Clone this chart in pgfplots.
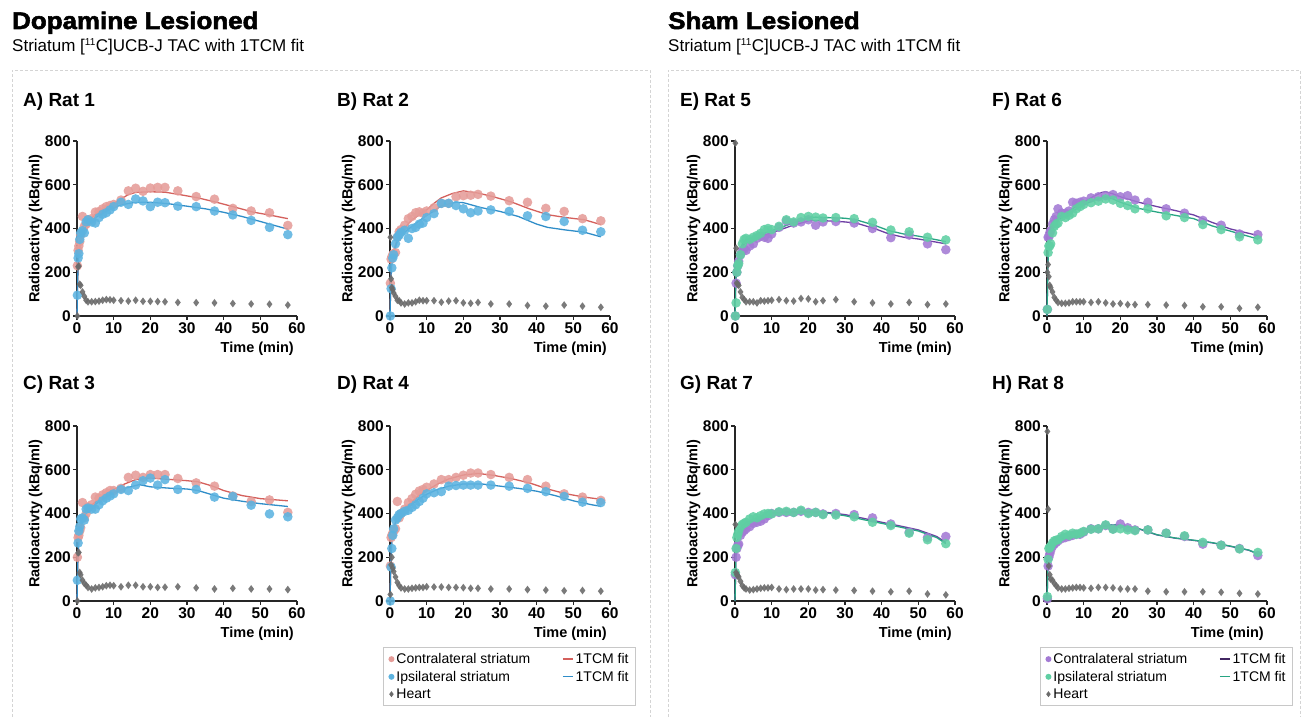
\documentclass[border=0pt]{standalone}
\usepackage{fontspec}
\setmainfont{Liberation Sans}
\newfontfamily\heavyfont{Liberation Sans}[BoldFeatures={FakeBold=2.2}]
\usepackage{pgfplots}
\usepackage{pgfplotstable}
\pgfplotsset{compat=1.18}

\definecolor{cpt}{HTML}{E59C98}
\definecolor{cfitc}{HTML}{D4605C}
\definecolor{ipt}{HTML}{5CB3E0}
\definecolor{ifitc}{HTML}{2F8DC8}
\definecolor{heart}{HTML}{6B6B6B}
\definecolor{ppt}{HTML}{A37AD4}
\definecolor{pfitc}{HTML}{6E3FA3}
\definecolor{gpt}{HTML}{5FCFA3}
\definecolor{gfitc}{HTML}{27A583}
\definecolor{boxgray}{HTML}{D4D4D4}
\definecolor{legbox}{HTML}{C8C8C8}

\pgfplotsset{
  panel/.style={
    scale only axis, width=220pt, height=175pt, anchor=south west,
    xmin=0, xmax=60, ymin=0, ymax=800,
    axis x line=bottom, axis y line=left,
    axis line style={-, line width=1.4pt, black!85},
    xtick={0,10,20,30,40,50,60}, ytick={0,200,400,600,800},
    minor tick num=0,
    tick align=outside, major tick length=4pt,
    every tick/.style={line width=1.2pt, black!85},
    tick label style={font=\fontsize{15.5}{17}\selectfont\bfseries, black},
    xticklabel style={inner sep=2pt},
    yticklabel style={inner sep=2pt},
    /pgf/number format/assume math mode=true,
    xlabel={Time (min)}, ylabel={Radioactivty (kBq/ml)},
    xlabel style={font=\fontsize{14.5}{17}\selectfont\bfseries, at={(1,0)}, anchor=north east, yshift=-26pt, xshift=-3pt, inner sep=0pt},
    ylabel style={font=\fontsize{14.5}{17}\selectfont\bfseries},
    ylabel shift=-3pt,
    clip=false,
    legend image code/.code={\draw[mark repeat=2,mark phase=2,##1] plot coordinates {(0pt,0pt)(5pt,0pt)(10pt,0pt)};},
  },
  pts/.style={only marks, mark=*, mark size=4.8pt, color=#1, mark options={fill=#1, draw=#1, fill opacity=0.88, draw opacity=0}},
  fit/.style={no marks, line width=1.3pt, color=#1},
  hrt/.style={only marks, mark=diamond*, mark size=3.9pt, color=heart, mark options={fill=heart, draw=heart, fill opacity=0.9, draw opacity=0}},
  leg/.style={
    legend columns=2, legend cell align=left,
    legend style={at={(1.1176,-0.263)}, anchor=north east, draw=legbox, line width=0.6pt,
      font=\fontsize{14}{16}\selectfont, inner xsep=5pt, inner ysep=4pt, row sep=2pt,
      /tikz/every even column/.append style={column sep=30pt}},
  },
}

% Dopamine lesioned: t, contralateral, ipsilateral, heart
\pgfplotstableread{
t c i h
0.1 230 95 0
0.3 300 265 225
0.5 320 285 228
0.75 340 350 145
1 370 380 140
1.5 455 390 110
2 410 380 90
2.5 420 430 72
3 440 440 65
4 445 430 65
5 475 425 66
6 478 450 68
7 490 465 72
8 500 472 75
9 505 485 74
10 510 500 72
12 530 520 70
14 572 510 68
16 584 535 72
18 570 526 67
20 585 500 67
22 588 520 66
24 588 518 65
27.5 572 502 62
32.5 546 500 61
37.5 534 480 60
42.5 492 462 57
47.5 480 437 55
52.5 472 405 54
57.5 414 372 50
}\tA

\pgfplotstableread{
t c i h
0.1 150 0 360
0.3 260 125 170
0.5 270 220 130
0.75 280 265 120
1 285 280 105
1.5 290 330 90
2 360 360 72
2.5 385 370 70
3 395 382 60
4 415 392 55
5 445 355 60
6 455 400 60
7 472 405 65
8 476 420 72
9 470 425 70
10 480 450 70
12 495 468 70
14 515 515 63
16 515 515 68
18 545 505 70
20 550 490 60
22 552 472 58
24 556 480 62
27.5 548 485 55
32.5 527 478 55
37.5 520 458 48
42.5 492 455 45
47.5 478 432 50
52.5 445 392 45
57.5 435 385 40
}\tB

\pgfplotstableread{
t c i h
0.1 200 95 0
0.3 290 265 220
0.5 300 320 222
0.75 320 340 130
1 335 375 120
1.5 450 380 95
2 380 370 80
2.5 400 420 72
3 430 425 62
4 440 420 55
5 475 420 60
6 470 440 62
7 485 458 65
8 495 470 70
9 505 480 72
10 505 490 70
12 515 510 65
14 565 505 72
16 575 530 72
18 565 550 65
20 578 562 65
22 578 530 62
24 578 555 63
27.5 560 510 65
32.5 540 510 60
37.5 525 475 55
42.5 480 478 58
47.5 455 438 55
52.5 462 398 55
57.5 405 385 52
}\tC

\pgfplotstableread{
t c i h
0.1 160 0 30
0.3 290 155 165
0.5 300 240 200
0.75 310 300 150
1 320 330 135
1.5 330 370 110
2 455 380 85
2.5 380 395 70
3 400 400 60
4 420 410 55
5 450 415 55
6 468 428 58
7 488 440 60
8 503 455 62
9 510 470 62
10 520 490 65
12 535 495 64
14 555 500 64
16 555 525 62
18 565 528 62
20 575 530 61
22 585 530 58
24 585 530 58
27.5 578 530 55
32.5 565 525 55
37.5 555 515 52
42.5 525 500 50
47.5 490 478 47
52.5 475 452 48
57.5 460 450 45
}\tD

% Sham lesioned
\pgfplotstableread{
t c i h
0.1 0 0 790
0.3 150 60 310
0.5 200 200 150
0.75 230 230 145
1 250 240 140
1.5 280 280 110
2 300 330 85
2.5 305 350 75
3 300 355 65
4 320 350 65
5 330 360 65
6 355 368 60
7 365 378 70
8 360 395 68
9 355 400 70
10 375 395 72
12 405 410 75
14 435 440 70
16 425 430 68
18 430 450 80
20 440 455 78
22 415 452 65
24 430 448 70
27.5 432 450 75
32.5 425 445 65
37.5 400 428 60
42.5 358 393 55
47.5 370 385 62
52.5 330 360 52
57.5 303 348 55
}\tE

\pgfplotstableread{
t c i h
0.1 30 30 200
0.3 360 290 235
0.5 360 320 180
0.75 380 320 140
1 390 330 130
1.5 420 380 110
2 440 410 85
2.5 455 420 72
3 490 425 62
4 470 455 58
5 470 450 58
6 480 460 60
7 520 470 65
8 515 490 65
9 520 500 65
10 525 510 65
12 540 518 62
14 545 525 65
16 550 535 60
18 555 530 55
20 545 515 57
22 550 505 52
24 530 490 52
27.5 520 490 52
32.5 490 458 50
37.5 470 450 48
42.5 437 418 42
47.5 415 395 42
52.5 375 362 35
57.5 372 348 40
}\tF

\pgfplotstableread{
t c i h
0.1 120 130 350
0.3 200 240 130
0.5 240 290 120
0.75 255 305 115
1 260 320 110
1.5 300 340 90
2 315 350 70
2.5 322 355 60
3 330 360 55
4 340 375 50
5 355 385 52
6 360 380 55
7 365 390 58
8 375 398 60
9 390 400 60
10 400 398 62
12 405 408 55
14 405 410 52
16 405 405 55
18 410 415 55
20 405 400 55
22 405 405 50
24 398 395 52
27.5 400 393 50
32.5 395 385 48
37.5 380 360 45
42.5 352 345 42
47.5 315 310 45
52.5 290 280 32
57.5 295 262 28
}\tG

\pgfplotstableread{
t c i h
0.1 10 20 775
0.3 160 190 420
0.5 200 240 160
0.75 215 245 120
1 230 250 100
1.5 250 265 95
2 260 275 80
2.5 268 278 70
3 275 280 60
4 285 295 55
5 290 305 55
6 295 300 58
7 300 310 60
8 305 305 62
9 305 310 62
10 315 318 60
12 330 328 58
14 330 330 62
16 345 348 62
18 330 328 60
20 352 330 55
22 335 325 55
24 325 322 55
27.5 325 325 45
32.5 310 310 42
37.5 295 298 42
42.5 260 268 42
47.5 255 255 40
52.5 240 238 35
57.5 208 222 32
}\tH

\begin{document}
\begin{tikzpicture}
\useasboundingbox (0,0) rectangle (1304pt,717pt);

% headers
\node[anchor=base west, inner sep=0pt, font=\heavyfont\bfseries\fontsize{24}{28}\selectfont] at (12pt,688pt) {\scalebox{1.08}[1]{Dopamine Lesioned}};
\node[anchor=base west, inner sep=0pt, font=\fontsize{17}{20}\selectfont] at (12pt,665pt) {Striatum [\textsuperscript{\fontsize{10}{10}\selectfont 11}C]UCB-J TAC with 1TCM fit};
\node[anchor=base west, inner sep=0pt, font=\heavyfont\bfseries\fontsize{24}{28}\selectfont] at (668pt,688pt) {\scalebox{1.08}[1]{Sham Lesioned}};
\node[anchor=base west, inner sep=0pt, font=\fontsize{17}{20}\selectfont] at (668pt,665pt) {Striatum [\textsuperscript{\fontsize{10}{10}\selectfont 11}C]UCB-J TAC with 1TCM fit};

% dashed boxes
\draw[boxgray, dash pattern=on 3pt off 2pt, line width=0.9pt] (12pt,-5pt) -- (12pt,647pt) -- (650pt,647pt) -- (650pt,-5pt);
\draw[boxgray, dash pattern=on 3pt off 2pt, line width=0.9pt] (668pt,-5pt) -- (668pt,647pt) -- (1300pt,647pt) -- (1300pt,-5pt);

% panel titles
\begin{scope}[every node/.style={anchor=base west, inner sep=0pt, font=\fontsize{19}{22}\selectfont\bfseries}]
\node at (23pt,610pt) {A) Rat 1};
\node at (337pt,610pt) {B) Rat 2};
\node at (23pt,327pt) {C) Rat 3};
\node at (337pt,327pt) {D) Rat 4};
\node at (680pt,610pt) {E) Rat 5};
\node at (992pt,610pt) {F) Rat 6};
\node at (680pt,327pt) {G) Rat 7};
\node at (992pt,327pt) {H) Rat 8};
\end{scope}

% ---------- A ----------
\begin{axis}[panel, at={(77pt,401pt)}]
\addplot[pts=cpt] table[x=t,y=c]{\tA};
\addplot[pts=ipt] table[x=t,y=i]{\tA};
\addplot[fit=cfitc] coordinates {(0,0)(0.25,200)(0.5,290)(1,350)(2,400)(3,430)(5,465)(8,500)(10,515)(12,535)(14,555)(16,565)(20,568)(24,566)(28,555)(33,540)(38,520)(43,498)(48,475)(53,460)(57.5,445)};
\addplot[fit=ifitc] coordinates {(0,0)(0.25,200)(0.5,290)(1,350)(2,405)(3,425)(5,450)(8,480)(10,495)(12,508)(15,517)(18,520)(20,520)(25,513)(30,502)(35,490)(40,474)(45,455)(50,432)(57.5,397)};
\addplot[hrt] table[x=t,y=h]{\tA};
\end{axis}

% ---------- B ----------
\begin{axis}[panel, at={(390pt,401pt)}]
\addplot[pts=cpt] table[x=t,y=c]{\tB};
\addplot[pts=ipt] table[x=t,y=i]{\tB};
\addplot[fit=cfitc] coordinates {(0,0)(0.25,180)(0.5,250)(1,300)(2,350)(3,385)(6,440)(10,485)(12,515)(14,540)(17,560)(20,572)(24,562)(28,546)(33,522)(38,490)(43,463)(48,450)(53,440)(57.5,418)};
\addplot[fit=ifitc] coordinates {(0,0)(0.25,180)(0.5,250)(1,290)(2,340)(3,370)(6,410)(10,460)(12,480)(14,505)(18,520)(20,518)(25,495)(30,478)(35,455)(40,420)(43,405)(48,393)(53,383)(57.5,362)};
\addplot[hrt] table[x=t,y=h]{\tB};
\end{axis}

% ---------- C ----------
\begin{axis}[panel, at={(77pt,116pt)}]
\addplot[pts=cpt] table[x=t,y=c]{\tC};
\addplot[pts=ipt] table[x=t,y=i]{\tC};
\addplot[fit=cfitc] coordinates {(0,0)(0.25,190)(0.5,280)(1,340)(2,400)(3,425)(5,452)(8,490)(10,510)(13,535)(16,555)(20,562)(25,556)(30,550)(33,545)(37,525)(40,505)(45,482)(50,468)(57.5,458)};
\addplot[fit=ifitc] coordinates {(0,0)(0.25,190)(0.5,280)(1,330)(2,400)(3,420)(5,442)(8,478)(10,495)(13,515)(17,532)(20,522)(25,516)(30,512)(33,505)(37,485)(40,470)(45,456)(50,445)(57.5,432)};
\addplot[hrt] table[x=t,y=h]{\tC};
\end{axis}

% ---------- D ----------
\begin{axis}[panel, leg, at={(390pt,116pt)}]
\addlegendimage{only marks, mark=*, mark size=3pt, color=cpt, mark options={draw=cpt, fill=cpt, draw opacity=0}}
\addlegendentry{Contralateral striatum}
\addlegendimage{no marks, line width=1.4pt, draw=cfitc}
\addlegendentry{1TCM fit}
\addlegendimage{only marks, mark=*, mark size=3pt, color=ipt, mark options={draw=ipt, fill=ipt, draw opacity=0}}
\addlegendentry{Ipsilateral striatum}
\addlegendimage{no marks, line width=1.4pt, draw=ifitc}
\addlegendentry{1TCM fit}
\addlegendimage{only marks, mark=diamond*, mark size=3pt, color=heart, mark options={draw=heart, fill=heart, draw opacity=0}}
\addlegendentry{Heart}
\addplot[pts=cpt, forget plot] table[x=t,y=c]{\tD};
\addplot[pts=ipt, forget plot] table[x=t,y=i]{\tD};
\addplot[fit=cfitc, forget plot] coordinates {(0,0)(0.25,190)(0.5,280)(1,330)(2,390)(3,410)(5,440)(8,485)(10,505)(13,535)(16,558)(20,576)(24,583)(28,575)(33,560)(38,540)(43,512)(48,490)(53,475)(57.5,465)};
\addplot[fit=ifitc, forget plot] coordinates {(0,0)(0.25,190)(0.5,280)(1,330)(2,385)(3,405)(5,430)(8,468)(10,488)(13,510)(16,525)(20,535)(25,535)(30,525)(35,515)(40,502)(45,482)(50,458)(55,440)(57.5,433)};
\addplot[hrt, forget plot] table[x=t,y=h]{\tD};
\end{axis}

% ---------- E ----------
\begin{axis}[panel, at={(735pt,401pt)}]
\addplot[pts=ppt] table[x=t,y=c]{\tE};
\addplot[pts=gpt] table[x=t,y=i]{\tE};
\addplot[fit=pfitc] coordinates {(0,0)(0.25,180)(0.5,230)(1,270)(2,320)(3,335)(5,350)(8,370)(10,380)(15,410)(20,435)(22,437)(25,435)(30,430)(33,425)(38,400)(42,375)(46,360)(50,352)(57.5,330)};
\addplot[fit=gfitc] coordinates {(0,0)(0.25,190)(0.5,240)(1,280)(2,330)(3,345)(5,360)(8,378)(10,390)(15,420)(20,448)(22,452)(25,450)(30,447)(33,440)(38,415)(42,390)(46,375)(50,365)(57.5,340)};
\addplot[hrt] table[x=t,y=h]{\tE};
\end{axis}

% ---------- F ----------
\begin{axis}[panel, at={(1047pt,401pt)}]
\addplot[pts=ppt] table[x=t,y=c]{\tF};
\addplot[pts=gpt] table[x=t,y=i]{\tF};
\addplot[fit=pfitc] coordinates {(0,0)(0.25,250)(0.5,340)(1,390)(2,430)(3,450)(5,472)(8,500)(10,520)(13,550)(15,565)(16,568)(18,558)(20,545)(25,520)(30,500)(35,482)(40,462)(45,428)(50,398)(57.5,368)};
\addplot[fit=gfitc] coordinates {(0,0)(0.25,240)(0.5,320)(1,375)(2,418)(3,438)(5,460)(8,490)(10,508)(13,530)(16,545)(18,535)(20,520)(25,492)(30,475)(35,460)(40,445)(45,412)(50,388)(57.5,352)};
\addplot[hrt] table[x=t,y=h]{\tF};
\end{axis}

% ---------- G ----------
\begin{axis}[panel, at={(735pt,116pt)}]
\addplot[pts=ppt] table[x=t,y=c]{\tG};
\addplot[pts=gpt] table[x=t,y=i]{\tG};
\addplot[fit=pfitc] coordinates {(0,0)(0.25,200)(0.5,260)(1,300)(2,335)(3,350)(5,368)(8,392)(10,402)(15,408)(20,408)(25,405)(30,395)(35,378)(40,360)(45,343)(50,325)(55,295)(57.5,268)};
\addplot[fit=gfitc] coordinates {(0,0)(0.25,210)(0.5,270)(1,310)(2,342)(3,356)(5,372)(8,395)(10,403)(15,406)(20,405)(25,402)(30,390)(35,372)(40,355)(45,338)(50,320)(55,290)(57.5,262)};
\addplot[hrt] table[x=t,y=h]{\tG};
\end{axis}

% ---------- H ----------
\begin{axis}[panel, leg, at={(1047pt,116pt)}]
\addlegendimage{only marks, mark=*, mark size=3pt, color=ppt, mark options={draw=ppt, fill=ppt, draw opacity=0}}
\addlegendentry{Contralateral striatum}
\addlegendimage{no marks, line width=1.4pt, draw=pfitc!60!black}
\addlegendentry{1TCM fit}
\addlegendimage{only marks, mark=*, mark size=3pt, color=gpt, mark options={draw=gpt, fill=gpt, draw opacity=0}}
\addlegendentry{Ipsilateral striatum}
\addlegendimage{no marks, line width=1.4pt, draw=gfitc}
\addlegendentry{1TCM fit}
\addlegendimage{only marks, mark=diamond*, mark size=3pt, color=heart, mark options={draw=heart, fill=heart, draw opacity=0}}
\addlegendentry{Heart}
\addplot[pts=ppt, forget plot] table[x=t,y=c]{\tH};
\addplot[pts=gpt, forget plot] table[x=t,y=i]{\tH};
\addplot[fit=pfitc, forget plot] coordinates {(0,0)(0.25,150)(0.5,200)(1,245)(2,268)(3,280)(5,295)(8,308)(10,315)(13,328)(15,340)(18,348)(20,345)(25,330)(30,302)(35,287)(40,277)(45,266)(50,250)(55,232)(57.5,215)};
\addplot[fit=gfitc, forget plot] coordinates {(0,0)(0.25,160)(0.5,210)(1,250)(2,272)(3,283)(5,297)(8,309)(10,316)(13,329)(15,341)(18,349)(20,346)(25,331)(30,303)(35,288)(40,278)(45,267)(50,251)(55,233)(57.5,217)};
\addplot[hrt, forget plot] table[x=t,y=h]{\tH};
\end{axis}

\end{tikzpicture}
\end{document}
